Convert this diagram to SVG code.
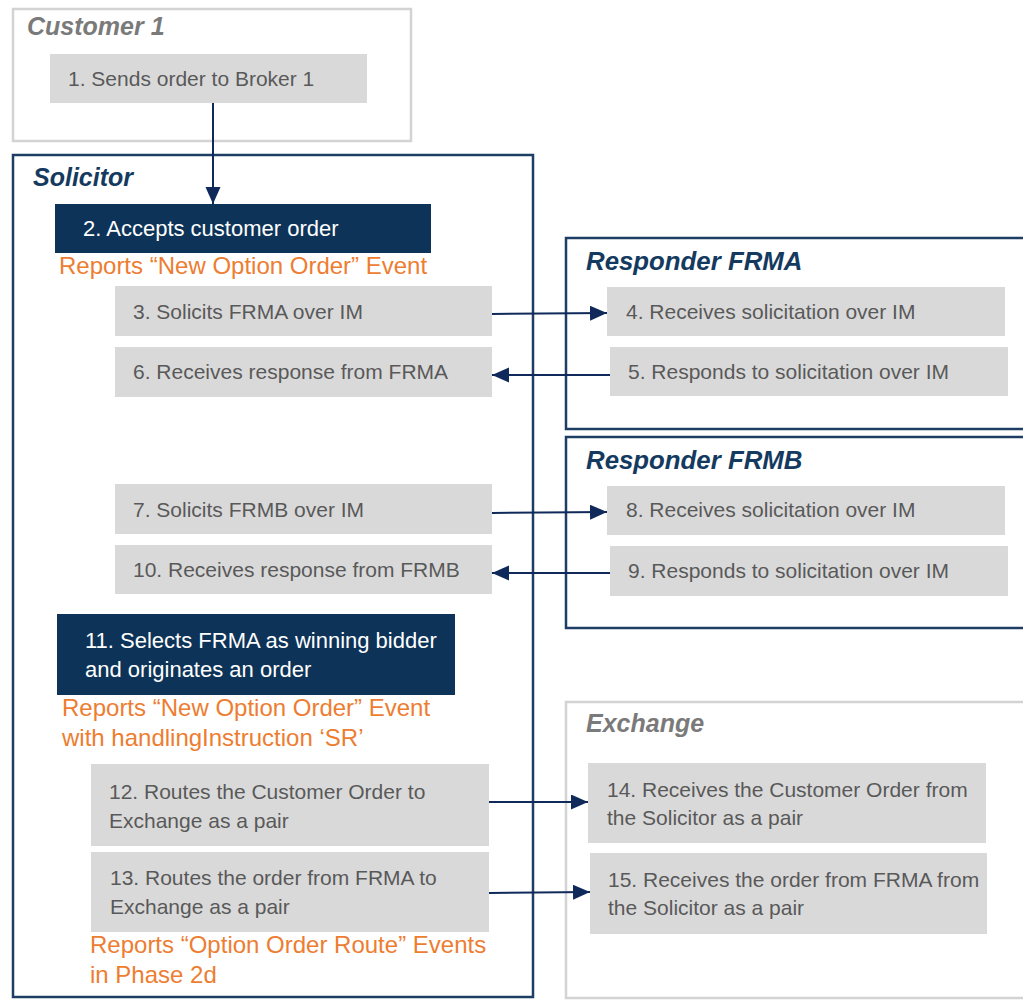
<svg xmlns="http://www.w3.org/2000/svg" width="1023" height="1004" viewBox="0 0 1023 1004">
<style>
text{font-family:"Liberation Sans",Arial,sans-serif}
.lane-gray{fill:#fff;stroke:#d3d3d3;stroke-width:2.5}
.lane-navy{fill:#fff;stroke:#1e3d64;stroke-width:2.5}
.t-gray{font-size:25px;font-weight:bold;font-style:italic;fill:#7a7a7a}
.t-navy{font-size:25px;font-weight:bold;font-style:italic;fill:#143a60}
.t-resp{font-size:25.8px}
.box{fill:#d9d9d9}
.dark{fill:#0d3458}
.txt{font-size:21px;fill:#595959}
.wtxt{font-size:22px;fill:#fff}
.otxt{font-size:24px;fill:#ed7d31}
.conn{stroke:#0f2a5a;stroke-width:2;fill:none;marker-end:url(#arr)}
</style>
<defs>
<marker id="arr" markerUnits="userSpaceOnUse" markerWidth="18" markerHeight="16" refX="17" refY="7.5" orient="auto">
<path d="M0,0 L17,7.5 L0,15 Z" fill="#0f2a5a"/>
</marker>
</defs>

<rect class="lane-gray" x="13" y="9" width="398" height="132"/>
<text class="t-gray" x="27" y="35">Customer 1</text>

<rect class="lane-navy" x="13" y="155" width="520" height="842"/>
<text class="t-navy" x="33" y="186">Solicitor</text>

<rect class="lane-navy" x="566" y="238" width="470" height="191"/>
<text class="t-navy t-resp" x="586" y="270">Responder FRMA</text>

<rect class="lane-navy" x="566" y="437" width="470" height="191"/>
<text class="t-navy t-resp" x="586" y="469">Responder FRMB</text>

<rect class="lane-gray" x="566" y="702" width="470" height="296"/>
<text class="t-gray" x="586" y="732">Exchange</text>

<g id="n1"><rect class="box" x="50" y="54" width="317" height="49"/><text class="txt" x="68" y="86">1. Sends order to Broker 1</text></g>
<g id="n2"><rect class="dark" x="55" y="204" width="376" height="49"/><text class="wtxt" x="83" y="236">2. Accepts customer order</text></g>
<text class="otxt" x="59" y="274">Reports “New Option Order” Event</text>
<g id="n3"><rect class="box" x="115" y="286" width="377" height="50"/><text class="txt" x="133" y="319">3. Solicits FRMA over IM</text></g>
<g id="n6"><rect class="box" x="115" y="347" width="377" height="50"/><text class="txt" x="133" y="379">6. Receives response from FRMA</text></g>
<g id="n7"><rect class="box" x="115" y="484" width="377" height="50"/><text class="txt" x="133" y="517">7. Solicits FRMB over IM</text></g>
<g id="n10"><rect class="box" x="115" y="545" width="377" height="49"/><text class="txt" x="133" y="577">10. Receives response from FRMB</text></g>
<g id="n4"><rect class="box" x="607" y="287" width="398" height="49"/><text class="txt" x="626" y="319">4. Receives solicitation over IM</text></g>
<g id="n5"><rect class="box" x="610" y="347" width="398" height="49"/><text class="txt" x="628" y="379">5. Responds to solicitation over IM</text></g>
<g id="n8"><rect class="box" x="607" y="486" width="398" height="49"/><text class="txt" x="626" y="517">8. Receives solicitation over IM</text></g>
<g id="n9"><rect class="box" x="610" y="546" width="398" height="50"/><text class="txt" x="628" y="578">9. Responds to solicitation over IM</text></g>
<g id="n11"><rect class="dark" x="57" y="614" width="398" height="81"/><text class="wtxt" x="85" y="648">11. Selects FRMA as winning bidder</text><text class="wtxt" x="85" y="677">and originates an order</text></g>
<text class="otxt" x="62" y="716">Reports “New Option Order” Event</text>
<text class="otxt" x="62" y="746">with handlingInstruction ‘SR’</text>
<g id="n12"><rect class="box" x="91" y="764" width="398" height="82"/><text class="txt" x="109" y="799">12. Routes the Customer Order to</text><text class="txt" x="109" y="828">Exchange as a pair</text></g>
<g id="n13"><rect class="box" x="91" y="852" width="398" height="80"/><text class="txt" x="110" y="885">13. Routes the order from FRMA to</text><text class="txt" x="110" y="914">Exchange as a pair</text></g>
<text class="otxt" x="90" y="953">Reports “Option Order Route” Events</text>
<text class="otxt" x="90" y="983">in Phase 2d</text>
<g id="n14"><rect class="box" x="588" y="763" width="398" height="80"/><text class="txt" x="607" y="797">14. Receives the Customer Order from</text><text class="txt" x="607" y="825">the Solicitor as a pair</text></g>
<g id="n15"><rect class="box" x="590" y="853" width="397" height="81"/><text class="txt" x="608" y="887">15. Receives the order from FRMA from</text><text class="txt" x="608" y="915">the Solicitor as a pair</text></g>

<g id="connectors">
<line class="conn" x1="213" y1="103" x2="213" y2="204"/>
<line class="conn" x1="492" y1="314" x2="607" y2="313"/>
<line class="conn" x1="610" y1="375" x2="492" y2="375"/>
<line class="conn" x1="492" y1="513" x2="607" y2="512"/>
<line class="conn" x1="610" y1="573" x2="492" y2="573"/>
<line class="conn" x1="489" y1="802" x2="588" y2="802"/>
<line class="conn" x1="489" y1="893" x2="590" y2="892"/>
</g>
</svg>
